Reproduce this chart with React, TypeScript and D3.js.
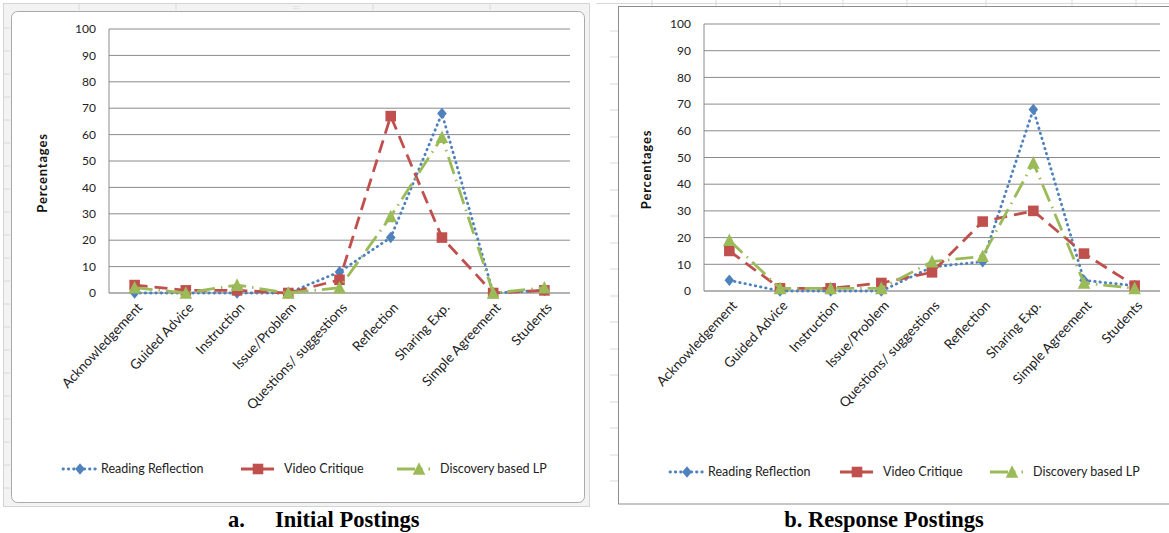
import React from "react";
import * as d3 from "d3";

// Coding categories shared by both panels
const categories = [
  "Acknowledgement",
  "Guided Advice",
  "Instruction",
  "Issue/Problem",
  "Questions/ suggestions",
  "Reflection",
  "Sharing Exp.",
  "Simple Agreement",
  "Students",
];

const seriesNames = ["Reading Reflection", "Video Critique", "Discovery based LP"];

// a. Initial postings (percentages)
const initialReading = [0, 0, 0, 0, 8, 21, 68, 0, 1];
const initialVideo = [3, 1, 1, 0, 5, 67, 21, 0, 1];
const initialDiscovery = [2, 0, 3, 0, 2, 29, 59, 0, 2];

// b. Response postings (percentages)
const responseReading = [4, 0, 0, 0, 9, 11, 68, 4, 2];
const responseVideo = [15, 1, 1, 3, 7, 26, 30, 14, 2];
const responseDiscovery = [19, 1, 1, 1, 11, 13, 48, 3, 1];

const yTicks = [0, 10, 20, 30, 40, 50, 60, 70, 80, 90, 100];

const COLORS = ["#4F81BD", "#C0504D", "#9BBB59"];
const DASHES = ["0.5 4.8", "13 7", "18 6 1.5 6"];
const LABEL_FONT = "Lato, 'Open Sans', sans-serif";
const CAPTION_FONT = "'Liberation Serif', 'Times New Roman', serif";

type Marker = "diamond" | "square" | "triangle";
const MARKERS: Marker[] = ["diamond", "square", "triangle"];

function markerPath(kind: Marker, cx: number, cy: number): string {
  if (kind === "diamond") {
    const r = 5.8;
    return `M${cx},${cy - r}L${cx + r - 1},${cy}L${cx},${cy + r}L${cx - r + 1},${cy}Z`;
  }
  if (kind === "square") {
    const h = 5.3;
    return `M${cx - h},${cy - h}H${cx + h}V${cy + h}H${cx - h}Z`;
  }
  const h = 6.8;
  return `M${cx},${cy - h}L${cx + h - 0.5},${cy + h - 1}L${cx - h + 0.5},${cy + h - 1}Z`;
}

type PanelProps = {
  series: number[][];
  x0: number;
  x1: number;
  yZero: number;
  yTop: number;
  titleX: number;
  legendY: number;
  legendX: number[];
};

function Panel({ series, x0, x1, yZero, yTop, titleX, legendY, legendX }: PanelProps) {
  const x = d3.scaleBand<string>().domain(categories).range([x0, x1]);
  const cx = (c: string) => (x(c) as number) + x.bandwidth() / 2;
  const y = d3.scaleLinear().domain([0, 100]).range([yZero, yTop]);
  const line = d3
    .line<number>()
    .x((_, i) => cx(categories[i]))
    .y((v) => y(v));

  return (
    <g>
      {/* horizontal gridlines */}
      {yTicks.map((t) => (
        <line
          key={`g${t}`}
          x1={x0}
          x2={x1}
          y1={y(t)}
          y2={y(t)}
          stroke={t === 0 ? "#b3b3b3" : "#8a8a8a"}
          strokeWidth={t === 0 ? 2 : 1}
        />
      ))}
      <line x1={x0} x2={x0} y1={yTop} y2={yZero} stroke="#8a8a8a" strokeWidth={1} />
      {yTicks.map((t) => (
        <text
          key={`t${t}`}
          x={x0 - 13}
          y={y(t)}
          dy="0.35em"
          textAnchor="end"
          fontFamily={LABEL_FONT}
          fontSize={12}
          fill="#222"
        >
          {t}
        </text>
      ))}
      <text
        transform={`translate(${titleX},${(yTop + yZero) / 2 + 12}) rotate(-90)`}
        textAnchor="middle"
        fontFamily={LABEL_FONT}
        fontWeight={700}
        fontSize={13}
        letterSpacing={0.8}
        fill="#111"
      >
        Percentages
      </text>
      {/* category labels */}
      {categories.map((c) => (
        <text
          key={c}
          transform={`translate(${cx(c) + 5},${yZero + 12}) rotate(-47)`}
          textAnchor="end"
          dy="0.35em"
          fontFamily={LABEL_FONT}
          fontSize={13.5}
          fill="#222"
        >
          {c}
        </text>
      ))}
      {/* series lines and markers */}
      {series.map((vals, si) => (
        <g key={si}>
          <path
            d={line(vals) as string}
            fill="none"
            stroke={COLORS[si]}
            strokeWidth={2.8}
            strokeDasharray={DASHES[si]}
            strokeLinecap={si === 0 ? "round" : "butt"}
          />
          {vals.map((v, i) => (
            <path key={i} d={markerPath(MARKERS[si], cx(categories[i]), y(v))} fill={COLORS[si]} />
          ))}
        </g>
      ))}
      {/* legend */}
      {seriesNames.map((name, si) => {
        const lx = legendX[si];
        const lineEnd = lx + 33;
        return (
          <g key={name}>
            <line
              x1={lx}
              x2={lineEnd}
              y1={legendY}
              y2={legendY}
              stroke={COLORS[si]}
              strokeWidth={2.8}
              strokeDasharray={DASHES[si]}
              strokeLinecap={si === 0 ? "round" : "butt"}
            />
            <path d={markerPath(MARKERS[si], lx + (si === 2 ? 22 : 17), legendY)} fill={COLORS[si]} />
            <text
              x={lineEnd + (si === 0 ? 5 : 10)}
              y={legendY}
              dy="0.35em"
              fontFamily={LABEL_FONT}
              fontSize={12.5}
              fill="#222"
            >
              {name}
            </text>
          </g>
        );
      })}
    </g>
  );
}

function LeftFrame() {
  const cellRows = [28, 51, 74, 97, 120, 143, 166, 189, 212, 235, 258, 281, 304, 327, 350, 373, 396, 419, 442, 465, 488];
  const cellCols = [79, 176, 373, 490];
  return (
    <g>
      <rect x={3.5} y={3.5} width={586} height={503} fill="#f3f3f3" stroke="#d4d4d4" />
      {cellRows.map((r) => (
        <line key={r} x1={3.5} x2={10} y1={r} y2={r} stroke="#d8d8d8" />
      ))}
      {cellCols.map((c) => (
        <line key={c} x1={c} x2={c} y1={3.5} y2={10} stroke="#d8d8d8" />
      ))}
      <rect x={11.5} y={11.5} width={573} height={491} rx={6} fill="#ffffff" stroke="#a9a9a9" />
      <text x={296} y={9} textAnchor="middle" fontSize={6} fill="#9a9a9a" fontFamily="sans-serif">
        ::::
      </text>
    </g>
  );
}

function RightFrame() {
  const ticksTop = [652, 716, 780, 843, 907, 986, 1072, 1136];
  const ticksLeft = [31, 57, 84, 110, 137, 163, 190, 216, 243, 269, 296, 322, 349, 375, 402, 428, 455, 481];
  return (
    <g>
      <line x1={596} x2={1169} y1={3.5} y2={3.5} stroke="#d9d9d9" />
      {ticksTop.map((t) => (
        <line key={t} x1={t} x2={t} y1={0} y2={6} stroke="#d9d9d9" />
      ))}
      {ticksLeft.map((t) => (
        <line key={t} x1={610} x2={618} y1={t} y2={t} stroke="#d9d9d9" />
      ))}
      <rect x={618.5} y={6.5} width={560} height={497.5} fill="#ffffff" stroke="#8c8c8c" />
    </g>
  );
}

export default function App() {
  return (
    <div style={{ position: "absolute", left: 0, top: 0 }}>
      <svg width={1169} height={533} style={{ display: "block", background: "#fff" }}>
        <LeftFrame />
        <RightFrame />
        <Panel
          series={[initialReading, initialVideo, initialDiscovery]}
          x0={109}
          x1={570}
          yZero={293}
          yTop={29}
          titleX={47}
          legendY={469}
          legendX={[63, 241, 397]}
        />
        <Panel
          series={[responseReading, responseVideo, responseDiscovery]}
          x0={704}
          x1={1160}
          yZero={291}
          yTop={24}
          titleX={651}
          legendY={472}
          legendX={[670, 840, 990]}
        />
        <text x={228} y={527} fontFamily={CAPTION_FONT} fontWeight={700} fontSize={22.5}>
          a.
        </text>
        <text x={275} y={527} fontFamily={CAPTION_FONT} fontWeight={700} fontSize={22.5}>
          Initial Postings
        </text>
        <text x={884} y={527} textAnchor="middle" fontFamily={CAPTION_FONT} fontWeight={700} fontSize={22.5}>
          b. Response Postings
        </text>
      </svg>
    </div>
  );
}
